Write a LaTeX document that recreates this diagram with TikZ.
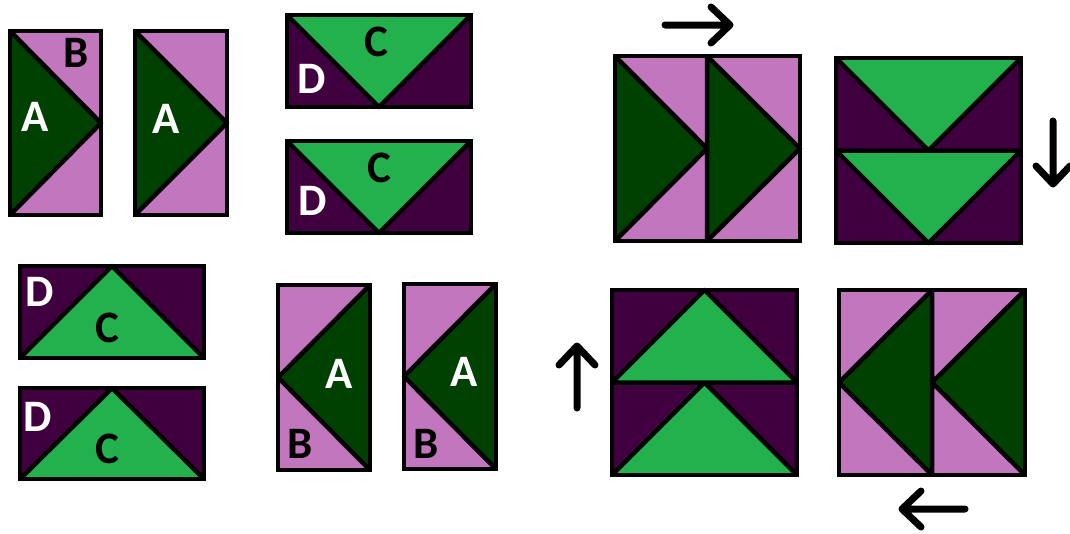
\documentclass[tikz,border=0pt]{standalone}
\usepackage{fontspec}
\setmainfont{Carlito}
\usepackage{tikz}
\definecolor{pinkpiece}{RGB}{193,118,190}
\definecolor{darkgreen}{RGB}{0,64,0}
\definecolor{brightgreen}{RGB}{34,177,76}
\definecolor{darkpurple}{RGB}{64,0,64}

\begin{document}
\begin{tikzpicture}[x=1pt, y=-1pt,
    seam/.style={line width=4.5pt, line join=round},
    border/.style={draw, line width=4.5pt},
    letter/.style={font=\fontsize{45}{45}\selectfont\bfseries, inner sep=0pt},
    arrowline/.style={line width=7pt, line cap=round, line join=round}]
    \useasboundingbox (0,0) rectangle (1070,533);

    % pieces A/B pointing right
    \fill[pinkpiece] (10,31) rectangle (101,215);
    \fill[darkgreen] (10,31) -- (101,123) -- (10,215) -- cycle;
    \draw[seam] (10,31) -- (101,123) -- (10,215);
    \draw[border] (10,31) rectangle (101,215);
    \fill[pinkpiece] (135,31) rectangle (227,215);
    \fill[darkgreen] (135,31) -- (227,123) -- (135,215) -- cycle;
    \draw[seam] (135,31) -- (227,123) -- (135,215);
    \draw[border] (135,31) rectangle (227,215);

    % pieces C/D pointing down
    \fill[darkpurple] (287,15) rectangle (471,107);
    \fill[brightgreen] (287,15) -- (471,15) -- (379,107) -- cycle;
    \draw[seam] (287,15) -- (379,107) -- (471,15);
    \draw[border] (287,15) rectangle (471,107);
    \fill[darkpurple] (287,141) rectangle (471,233);
    \fill[brightgreen] (287,141) -- (471,141) -- (379,233) -- cycle;
    \draw[seam] (287,141) -- (379,233) -- (471,141);
    \draw[border] (287,141) rectangle (471,233);

    % pieces D/C pointing up
    \fill[darkpurple] (20,266) rectangle (204,358);
    \fill[brightgreen] (20,358) -- (204,358) -- (112,266) -- cycle;
    \draw[seam] (20,358) -- (112,266) -- (204,358);
    \draw[border] (20,266) rectangle (204,358);
    \fill[darkpurple] (20,388) rectangle (204,479);
    \fill[brightgreen] (20,479) -- (204,479) -- (112,388) -- cycle;
    \draw[seam] (20,479) -- (112,388) -- (204,479);
    \draw[border] (20,388) rectangle (204,479);

    % pieces A/B pointing left
    \fill[pinkpiece] (278,285) rectangle (370,470);
    \fill[darkgreen] (370,285) -- (278,377.5) -- (370,470) -- cycle;
    \draw[seam] (370,285) -- (278,377.5) -- (370,470);
    \draw[border] (278,285) rectangle (370,470);
    \fill[pinkpiece] (404,284) rectangle (496,469);
    \fill[darkgreen] (496,284) -- (404,376.5) -- (496,469) -- cycle;
    \draw[seam] (496,284) -- (404,376.5) -- (496,469);
    \draw[border] (404,284) rectangle (496,469);

    % labels
    \node[letter, white] (a1) at (35,117) {A};
    \node[letter] (b1) at (76,53) {B};
    \node[letter, white] (a2) at (166,119) {A};
    \node[letter] (c1) at (376,42) {C};
    \node[letter, white] (d1) at (312,79) {D};
    \node[letter] (c2) at (379,168) {C};
    \node[letter, white] (d2) at (313,201) {D};
    \node[letter, white] (d3) at (40,292) {D};
    \node[letter] (c3) at (107,328) {C};
    \node[letter, white] (d4) at (38,417) {D};
    \node[letter] (c4) at (107,449) {C};
    \node[letter, white] (a3) at (339,374) {A};
    \node[letter] (b3) at (300,444) {B};
    \node[letter, white] (a4) at (464,372) {A};
    \node[letter] (b4) at (426,444) {B};

    % block right
    \fill[pinkpiece] (615,56) rectangle (800,241);
    \fill[darkgreen] (615,56) -- (707,148.5) -- (615,241) -- cycle
                     (707,56) -- (800,148.5) -- (707,241) -- cycle;
    \draw[seam] (615,56) -- (707,148.5) -- (615,241)
                (707,56) -- (800,148.5) -- (707,241)
                (707,56) -- (707,241);
    \draw[border] (615,56) rectangle (800,241);

    % block down
    \fill[darkpurple] (836,58) rectangle (1021,243);
    \fill[brightgreen] (836,58) -- (1021,58) -- (928.5,150.5) -- cycle
                       (836,150.5) -- (1021,150.5) -- (928.5,243) -- cycle;
    \draw[seam] (836,58) -- (928.5,150.5) -- (1021,58)
                (836,150.5) -- (928.5,243) -- (1021,150.5)
                (836,150.5) -- (1021,150.5);
    \draw[border] (836,58) rectangle (1021,243);

    % block up
    \fill[darkpurple] (612,290) rectangle (797,475);
    \fill[brightgreen] (612,382.5) -- (797,382.5) -- (704.5,290) -- cycle
                       (612,475) -- (797,475) -- (704.5,382.5) -- cycle;
    \draw[seam] (612,382.5) -- (704.5,290) -- (797,382.5)
                (612,475) -- (704.5,382.5) -- (797,475)
                (612,382.5) -- (797,382.5);
    \draw[border] (612,290) rectangle (797,475);

    % block left
    \fill[pinkpiece] (839,290) rectangle (1025,475);
    \fill[darkgreen] (932,290) -- (839,382.5) -- (932,475) -- cycle
                     (1025,290) -- (932,382.5) -- (1025,475) -- cycle;
    \draw[seam] (932,290) -- (839,382.5) -- (932,475)
                (1025,290) -- (932,382.5) -- (1025,475)
                (932,290) -- (932,475);
    \draw[border] (839,290) rectangle (1025,475);

    % arrows
    \draw[arrowline] (665,25) -- (730,25) (711,7) -- (730,25) -- (711,43);
    \draw[arrowline] (1053,121) -- (1053,184) (1036,166) -- (1053,184) -- (1070,166);
    \draw[arrowline] (577,408) -- (577,346) (559,365) -- (577,346) -- (595,365);
    \draw[arrowline] (965,509) -- (902,509) (921,491) -- (902,509) -- (921,527);
\end{tikzpicture}
\end{document}
